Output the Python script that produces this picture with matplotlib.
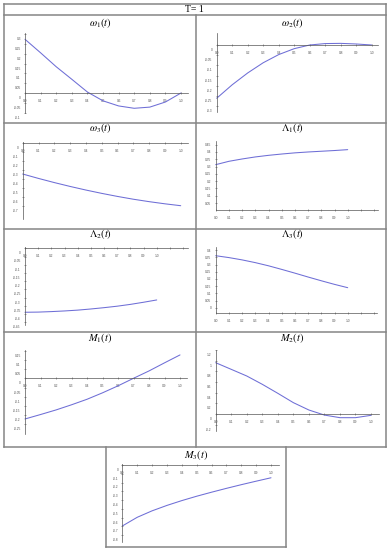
import matplotlib
matplotlib.use("Agg")
import matplotlib.pyplot as plt
import matplotlib.transforms as mtransforms
from matplotlib.lines import Line2D

plt.rcParams['mathtext.fontset'] = 'stix'
plt.rcParams['font.family'] = ['Liberation Sans', 'DejaVu Sans']

# ---------------- data ----------------
t = [0.0, 0.1, 0.2, 0.3, 0.4, 0.5, 0.6, 0.7, 0.8, 0.9, 1.0]

omega1 = [0.274, 0.205, 0.134, 0.070, 0.005, -0.040, -0.066, -0.078, -0.072, -0.046, 0.0]
omega2 = [-0.261, -0.195, -0.137, -0.087, -0.047, -0.018, 0.0, 0.007, 0.008, 0.005, 0.0]
omega3 = [-0.348, -0.397, -0.443, -0.486, -0.526, -0.563, -0.597, -0.628, -0.655, -0.679, -0.700]
lam1 = [0.313, 0.336, 0.352, 0.366, 0.377, 0.386, 0.394, 0.400, 0.405, 0.410, 0.416]
lam2 = [-0.390, -0.389, -0.386, -0.382, -0.377, -0.370, -0.362, -0.353, -0.342, -0.329, -0.315]
lam3 = [0.361, 0.348, 0.332, 0.313, 0.291, 0.266, 0.240, 0.213, 0.187, 0.162, 0.139]
m1 = [-0.221, -0.197, -0.172, -0.144, -0.114, -0.079, -0.041, 0.0, 0.040, 0.084, 0.127]
m2 = [0.962, 0.838, 0.713, 0.557, 0.388, 0.213, 0.075, -0.020, -0.069, -0.069, -0.025]
m3 = [-0.697, -0.598, -0.524, -0.462, -0.407, -0.357, -0.311, -0.267, -0.225, -0.185, -0.146]

titles = [r'$\omega_1(t)$', r'$\omega_2(t)$', r'$\omega_3(t)$',
          r'$\Lambda_1(t)$', r'$\Lambda_2(t)$', r'$\Lambda_3(t)$',
          r'$M_1(t)$', r'$M_2(t)$', r'$M_3(t)$']
header = 'T= 1'

xt_short = [0.0, 0.1, 0.2, 0.3, 0.4, 0.5, 0.6, 0.7, 0.8, 0.9, 1.0]
xl_short = ['0.0', '0.1', '0.2', '0.3', '0.4', '0.5', '0.6', '0.7', '0.8', '0.9', '1.0']
xt_long = xt_short + [1.1, 1.2]
xl_long = xl_short + ['', '']

yt_w1 = [0.3, 0.25, 0.2, 0.15, 0.1, 0.05, 0.0, -0.05, -0.1]
yl_w1 = ['0.3', '0.25', '0.2', '0.15', '0.1', '0.05', '0', '-0.05', '-0.1']
yt_w2 = [0.0, -0.05, -0.1, -0.15, -0.2, -0.25, -0.3]
yl_w2 = ['0', '-0.05', '-0.1', '-0.15', '-0.2', '-0.25', '-0.3']
yt_w3 = [0.0, -0.1, -0.2, -0.3, -0.4, -0.5, -0.6, -0.7]
yl_w3 = ['0', '-0.1', '-0.2', '-0.3', '-0.4', '-0.5', '-0.6', '-0.7']
yt_l1 = [0.05, 0.1, 0.15, 0.2, 0.25, 0.3, 0.35, 0.4, 0.45]
yl_l1 = ['0.05', '0.1', '0.15', '0.2', '0.25', '0.3', '0.35', '0.4', '0.45']
yt_l2 = [0.0, -0.05, -0.1, -0.15, -0.2, -0.25, -0.3, -0.35, -0.4, -0.45]
yl_l2 = ['0', '-0.05', '-0.1', '-0.15', '-0.2', '-0.25', '-0.3', '-0.35', '-0.4', '-0.45']
yt_l3 = [0.0, 0.05, 0.1, 0.15, 0.2, 0.25, 0.3, 0.35, 0.4]
yl_l3 = ['0', '0.05', '0.1', '0.15', '0.2', '0.25', '0.3', '0.35', '0.4']
yt_m1 = [0.15, 0.1, 0.05, 0.0, -0.05, -0.1, -0.15, -0.2, -0.25]
yl_m1 = ['0.15', '0.1', '0.05', '0', '-0.05', '-0.1', '-0.15', '-0.2', '-0.25']
yt_m2 = [1.2, 1.0, 0.8, 0.6, 0.4, 0.2, 0.0, -0.2]
yl_m2 = ['1.2', '1', '0.8', '0.6', '0.4', '0.2', '0', '-0.2']
yt_m3 = [0.0, -0.1, -0.2, -0.3, -0.4, -0.5, -0.6, -0.7, -0.8]
yl_m3 = ['0', '-0.1', '-0.2', '-0.3', '-0.4', '-0.5', '-0.6', '-0.7', '-0.8']

# ---------------- layout (pixels) ----------------
W, H = 391, 550
DPI = 100
LINE_COLOR = '#6e6ed6'
GRID_COLOR = '#858585'

fig = plt.figure(figsize=(W / DPI, H / DPI), dpi=DPI)
fig.patch.set_facecolor('white')


def fx(x):
    return x / W


def fy(y):
    return 1 - y / H


# panel spec: x of t=0, px per unit x, xmax, y of value 0, px per unit y, ylim,
# crossing axes?, title position
panels = [
    dict(y=omega1, yt=yt_w1, yl=yl_w1, x0=25, sx=156, xmax=1.045, y0=93, sy=196,
         ylim=(-0.1, 0.306), cross=True, xt=xt_short, xl=xl_short, tpos=(100, 23)),
    dict(y=omega2, yt=yt_w2, yl=yl_w2, x0=216.7, sx=155, xmax=1.04, y0=45, sy=204,
         ylim=(-0.33, 0.059), cross=True, xt=xt_short, xl=xl_short, tpos=(292, 23)),
    dict(y=omega3, yt=yt_w3, yl=yl_w3, x0=22.7, sx=158, xmax=1.045, y0=142.7, sy=90,
         ylim=(-0.85, 0.01), cross=True, xt=xt_short, xl=xl_short, tpos=(100, 128.5)),
    dict(y=lam1, yt=yt_l1, yl=yl_l1, x0=215.7, sx=132, xmax=1.23, y0=210.3, sy=145.8,
         ylim=(0.0, 0.473), cross=False, xt=xt_long, xl=xl_long, tpos=(292, 128.5)),
    dict(y=lam2, yt=yt_l2, yl=yl_l2, x0=25, sx=131.7, xmax=1.24, y0=248.3, sy=164,
         ylim=(-0.47, 0.01), cross=True, xt=xt_long, xl=xl_long, tpos=(100, 234)),
    dict(y=lam3, yt=yt_l3, yl=yl_l3, x0=215.7, sx=132, xmax=1.22, y0=307.7, sy=144,
         ylim=(-0.039, 0.424), cross=False, xt=xt_long, xl=xl_long, tpos=(292, 234)),
    dict(y=m1, yt=yt_m1, yl=yl_m1, x0=25, sx=155, xmax=1.047, y0=378.3, sy=184,
         ylim=(-0.3, 0.155), cross=True, xt=xt_short, xl=xl_short, tpos=(100, 338)),
    dict(y=m2, yt=yt_m2, yl=yl_m2, x0=215.7, sx=155.3, xmax=1.05, y0=414, sy=53.3,
         ylim=(-0.32, 1.2), cross=True, xt=xt_short, xl=xl_short, tpos=(292, 338)),
    dict(y=m3, yt=yt_m3, yl=yl_m3, x0=122.3, sx=148.7, xmax=1.054, y0=465, sy=87.5,
         ylim=(-0.88, 0.01), cross=True, xt=xt_short, xl=xl_short, tpos=(196.5, 455)),
]

label_shift = mtransforms.ScaledTranslation(0, -4.5 / DPI, fig.dpi_scale_trans)

for p, title in zip(panels, titles):
    left = p['x0']
    right = p['x0'] + p['xmax'] * p['sx']
    top = p['y0'] - p['ylim'][1] * p['sy']
    bottom = p['y0'] - p['ylim'][0] * p['sy']
    ax = fig.add_axes([fx(left), fy(bottom), (right - left) / W, (bottom - top) / H])
    ax.patch.set_visible(False)
    ax.plot(t, p['y'], color=LINE_COLOR, lw=0.75, solid_capstyle='round', clip_on=False)
    ax.set_xlim(0, p['xmax'])
    ax.set_ylim(*p['ylim'])
    for s in ['top', 'right']:
        ax.spines[s].set_visible(False)
    if p['cross']:
        ax.spines['bottom'].set_position(('data', 0))
    for s in ['left', 'bottom']:
        ax.spines[s].set_linewidth(0.5)
        ax.spines[s].set_color('#555555')
    ax.set_xticks(p['xt'], p['xl'])
    ax.set_yticks(p['yt'], p['yl'])
    ax.tick_params(axis='both', direction='inout', length=2, width=0.4,
                   color='#555555', labelsize=2.3, labelcolor='#555555')
    ax.tick_params(axis='x', pad=3.3)
    ax.tick_params(axis='y', pad=2.0)
    if p['cross']:
        for lab in ax.get_yticklabels():
            lab.set_transform(lab.get_transform() + label_shift)
    fig.text(fx(p['tpos'][0]), fy(p['tpos'][1]), title, fontsize=7.5,
             ha='center', va='center')

fig.text(fx(194), fy(9.5), header, family=['Liberation Serif', 'DejaVu Serif'],
         fontsize=7, ha='center', va='center')


def seg(x1, y1, x2, y2):
    fig.add_artist(Line2D([fx(x1), fx(x2)], [fy(y1), fy(y2)], transform=fig.transFigure,
                          color=GRID_COLOR, lw=1.1, solid_capstyle='projecting'))


# table frame
seg(4, 4, 386, 4)
seg(4, 4, 4, 447)
seg(386, 4, 386, 447)
seg(4, 15, 386, 15)
seg(4, 123, 386, 123)
seg(4, 229, 386, 229)
seg(4, 332, 386, 332)
seg(4, 447, 386, 447)
seg(196, 15, 196, 447)
# last cell
seg(106, 447, 106, 547)
seg(286, 447, 286, 547)
seg(106, 547, 286, 547)

fig.savefig('out.png', dpi=DPI, facecolor='white')
